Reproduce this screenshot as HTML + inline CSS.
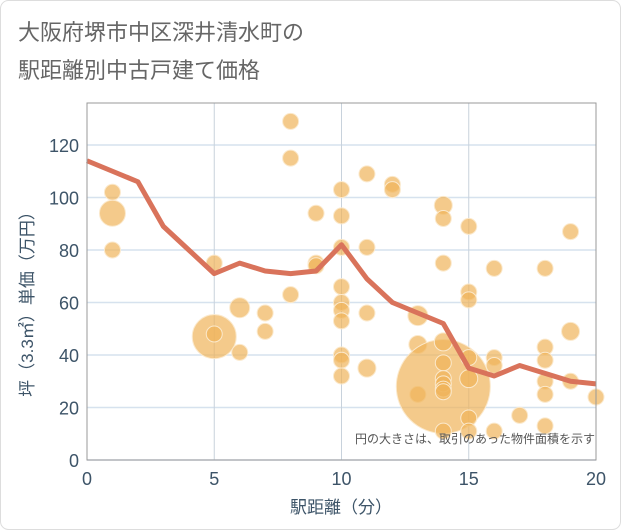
<!DOCTYPE html>
<html><head><meta charset="utf-8"><style>
body{margin:0;background:#fff;}
#wrap{position:relative;width:621px;height:530px;overflow:hidden;font-family:"Liberation Sans","Noto Sans CJK JP",sans-serif;}
</style></head><body>
<div id="wrap">
<svg id="chart" width="621" height="530">
<rect x="0.5" y="0.5" width="620" height="529" rx="8" fill="#fff" stroke="#ddd"/>
<text x="18" y="40" font-size="22" fill="#666">大阪府堺市中区深井清水町の</text>
<text x="18" y="78" font-size="22" fill="#666">駅距離別中古戸建て価格</text>
<g id="grid"></g>
<g id="bubbles"></g>
<g id="line"></g>
<g id="axes"></g>
<text x="595" y="443" font-size="12" fill="#555" text-anchor="end">円の大きさは、取引のあった物件面積を示す</text>
<text x="341" y="513" font-size="17" fill="#3d5468" text-anchor="middle">駅距離（分）</text>
<text transform="translate(33,300) rotate(-90)" font-size="17" fill="#3d5468" text-anchor="middle">坪（3.3㎡）単価（万円）</text>
</svg>
</div>
<script>
const xTicks=[0,5,10,15,20];
const yTicks=[0,20,40,60,80,100,120];
const bubbleX=[1,1,1,5,5,5,6,6,7,7,8,8,8,9,9,9,10,10,10,10,10,10,10,10,10,10,11,11,11,11,12,12,13,13,13,14,14,14,14,14,14,14,14,14,14,14,15,15,15,15,15,15,15,16,16,16,16,17,18,18,18,18,18,18,19,19,19,20];
const bubbleY=[102,94,80,75,47,48,58,41,56,49,129,115,63,94,75,74,103,93,81,66,60,57,53,40,38,32,109,81,56,35,105,103,55,44,25,28,97,92,75,45,37,31,29,27,26,11,89,64,61,39,31,16,11,73,39,36,11,17,73,43,38,30,25,13,87,49,30,24];
const bubbleR=[8,13,8,8,22,8,10,8,8,8,8,8,8,8,8,8,8,8,8,8,8,8,8,8,8,8,8,8,8,9,8,8,10,9,8,47,9,8,8,9,8,8,8,8,8,8,8,8,8,8,9,8,8,8,8,8,8,8,8,8,8,8,8,8,8,9,8,8];
const lineX=[0,1,2,3,4,5,6,7,8,9,10,11,12,13,14,15,16,17,18,19,20];
const lineY=[114,110,106,89,80,71,75,72,71,72,82,69,60,56,52,35,32,36,33,30,29];
const L=87,R=596,T=103,B=460;
const sx=v=>L+(v-0)/20*(R-L);
const sy=v=>B-v/120*(B-145);
const NS="http://www.w3.org/2000/svg";
function mk(tag,attrs,parent){const e=document.createElementNS(NS,tag);for(const k in attrs)e.setAttribute(k,attrs[k]);parent.appendChild(e);return e;}
const grid=document.getElementById('grid'),axes=document.getElementById('axes'),bub=document.getElementById('bubbles'),ln=document.getElementById('line');
yTicks.forEach(v=>{
 const g=mk('line',{x1:L,x2:R,y1:sy(v),y2:sy(v),stroke:'#d6e2ee','stroke-width':1.5},grid);
 
 
 const t=mk('text',{x:L-8,y:sy(v)+7,'font-size':18,fill:'#3d5468','text-anchor':'end'},axes);
 t.textContent=v;
 
 
});
xTicks.forEach(v=>{
 const g=mk('line',{x1:sx(v),x2:sx(v),y1:T,y2:B,stroke:'#c8d2dc','stroke-width':1},grid);
 
 
 const t=mk('text',{x:sx(v),y:B+25,'font-size':18,fill:'#3d5468','text-anchor':'middle'},axes);
 t.textContent=v;
 
 
});
const fr=mk('rect',{x:L,y:T,width:R-L,height:B-T,fill:'none',stroke:'#999','stroke-width':1},axes);


bubbleX.forEach((x,i)=>{
 const c=mk('circle',{cx:sx(x),cy:sy(bubbleY[i]),r:bubbleR[i],fill:'rgba(240,180,90,0.7)',stroke:'#fbe9cc','stroke-width':1},bub);
 
 
});
const p=mk('polyline',{points:lineX.map((x,i)=>sx(x)+','+sy(lineY[i])).join(' '),fill:'none',stroke:'#d9735b','stroke-width':5,'stroke-linejoin':'round'},ln);


</script>
</body></html>
